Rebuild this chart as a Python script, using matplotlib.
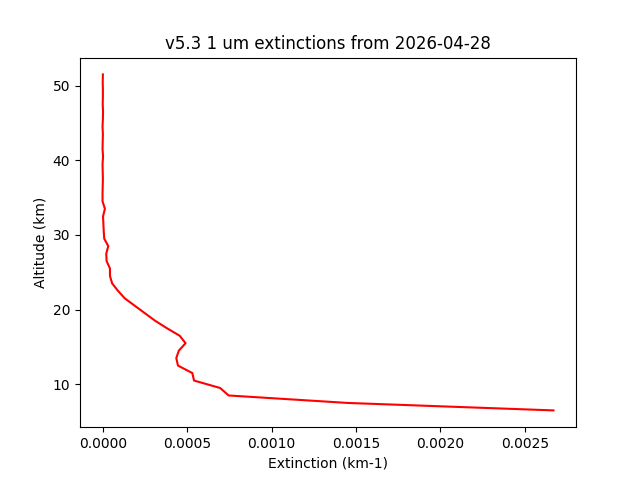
import numpy as np
import matplotlib
matplotlib.use('Agg')
from matplotlib import pyplot as plt

# perfil de extincion (altitud en km, extincion en km-1)
altitudes = np.arange(6.5, 52.0, 1.0)
extinciones = np.array([
    26.7, 14.5, 7.45, 6.95, 5.4, 5.3, 4.45, 4.35, 4.5, 4.9,
    4.55, 3.8, 3.1, 2.5, 1.9, 1.3, 0.9, 0.55, 0.42, 0.42,
    0.22, 0.2, 0.32, 0.08, 0.05, 0.03, 0.01, 0.12, -0.02,
    -0.02, -0.01, 0.0, -0.01, -0.02, 0.01, -0.02, -0.01, 0.0,
    -0.02, 0.0, 0.01, -0.01, 0.0, 0.0, -0.01, 0.0,
]) * 1e-4

fecha = '2026-04-28'

fig, ax = plt.subplots(figsize=(6.4, 4.8), dpi=100)
ax.plot(extinciones, altitudes, color='red')
ax.set_title('v5.3 1 um extinctions from {}'.format(fecha))
ax.set_xlabel('Extinction (km-1)')
ax.set_ylabel('Altitude (km)')
fig.savefig('out.png')
